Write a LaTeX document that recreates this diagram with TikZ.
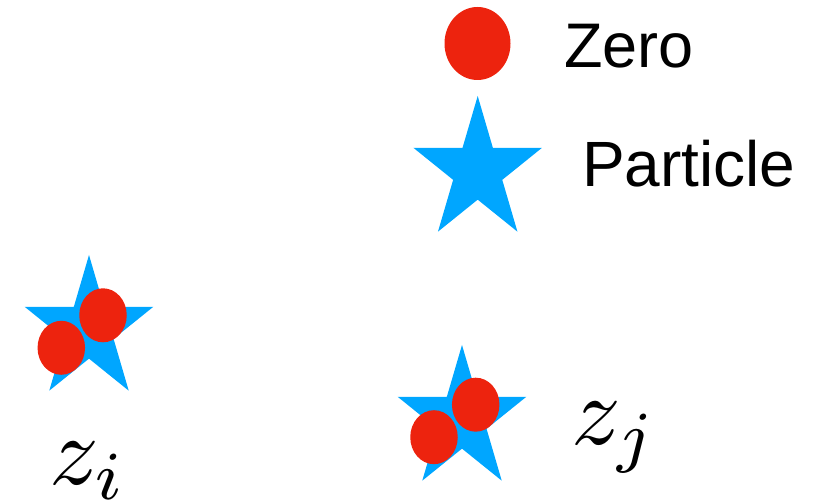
\documentclass[tikz,border=0pt]{standalone}
\usepackage{fontspec}
\newfontfamily\labelfont{Liberation Sans}
\usetikzlibrary{shapes.geometric}
\definecolor{zerored}{RGB}{237,35,14}
\definecolor{partblue}{RGB}{0,166,255}
\tikzset{
  zero/.style={ellipse, fill=zerored, inner sep=0pt, minimum width=47.5pt, minimum height=54pt},
  bigzero/.style={ellipse, fill=zerored, inner sep=0pt, minimum width=66pt, minimum height=73pt},
  legendtext/.style={anchor=base west, inner sep=0pt, font=\labelfont\fontsize{63}{70}\selectfont},
  mathlabel/.style={anchor=base west, inner sep=0pt},
  pics/particle/.style={code={
    \fill[partblue, xscale=0.9013] (90:75)
      \foreach \k in {0,...,4}{ -- ({126+72*\k}:28.65) -- ({162+72*\k}:75)} -- cycle;
  }}
}
\begin{document}
\begin{tikzpicture}[x=1pt, y=1pt]
\useasboundingbox (0,0) rectangle (822,500);
% legend
\node[bigzero] (lzero) at (477.5,456.5) {};
\node[legendtext] (lzerotext) at (564,432.3) {Zero};
\pic (lstar) at (477.7,329) {particle};
\node[legendtext, font=\labelfont\fontsize{64}{70}\selectfont] (lparttext) at (582,313.3) {Particle};
% z_i
\pic (stari) at (89,170) {particle};
\node[zero] (zi1) at (103,184.7) {};
\node[zero] (zi2) at (61.3,152.2) {};
\node[mathlabel] (labi) at (49,15) {\scalebox{9.8}{$z_i$}};
% z_j
\pic (starj) at (462,80) {particle};
\node[zero] (zj1) at (475.7,95.3) {};
\node[zero] (zj2) at (434,62.8) {};
\node[mathlabel] (labj) at (571,55) {\scalebox{9.8}{$z_j$}};
\end{tikzpicture}
\end{document}
